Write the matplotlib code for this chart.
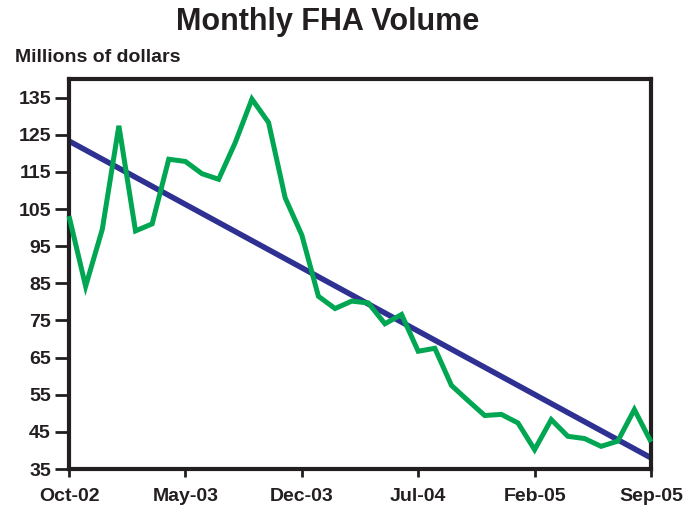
import matplotlib.pyplot as plt
import numpy as np

plt.rcParams['font.family'] = ['Liberation Sans', 'DejaVu Sans']

# monthly FHA volume, Oct-02 .. Sep-05 (millions of dollars)
volume = [103.1, 84.2, 99.5, 127.4, 99.1, 101.0, 118.4, 117.8, 114.5, 113.0,
          122.9, 134.6, 128.3, 108.0, 98.0, 81.5, 78.2, 80.2, 79.7, 74.1,
          76.6, 66.7, 67.5, 57.5, 53.4, 49.4, 49.7, 47.4, 40.2, 48.3,
          43.8, 43.2, 41.1, 42.5, 51.0, 42.3]
trend_ends = [123.3, 38.0]
tick_labels = ["Oct-02", "May-03", "Dec-03", "Jul-04", "Feb-05", "Sep-05"]
y_ticks = [35, 45, 55, 65, 75, 85, 95, 105, 115, 125, 135]

months = np.arange(len(volume))
dark = "#231f20"

fig = plt.figure(figsize=(6.88, 5.08), dpi=100)
ax = fig.add_axes([69 / 688, 1 - 469 / 508, (651 - 69) / 688, (469 - 79) / 508])

ax.plot([months[0], months[-1]], trend_ends, color="#2e3192", lw=4.0,
        solid_capstyle="butt", zorder=2)
ax.plot(months, volume, color="#00a651", lw=3.6, solid_joinstyle="miter",
        solid_capstyle="butt", zorder=3, clip_on=False)

ax.set_xlim(0, 35)
ax.set_ylim(35, 140)
ax.set_xticks(months[::7])
ax.set_xticklabels(tick_labels)
ax.set_yticks(y_ticks)

for s in ax.spines.values():
    s.set_linewidth(3)
    s.set_color(dark)

ax.tick_params(axis="y", direction="out", length=10, width=2, color=dark,
               labelsize=14, labelcolor=dark, pad=3)
ax.tick_params(axis="x", direction="out", length=6, width=2, color=dark,
               labelsize=14, labelcolor=dark, pad=8)
for lab in ax.get_xticklabels() + ax.get_yticklabels():
    lab.set_fontweight("bold")

fig.text(328 / 688, 1 - 22 / 508, "Monthly FHA Volume", ha="center", va="center",
         fontsize=22, fontweight="bold", color=dark)
fig.text(15 / 688, 1 - 57 / 508, "Millions of dollars", ha="left", va="center",
         fontsize=14, fontweight="bold", color=dark)

fig.savefig("out.png", dpi=100)
